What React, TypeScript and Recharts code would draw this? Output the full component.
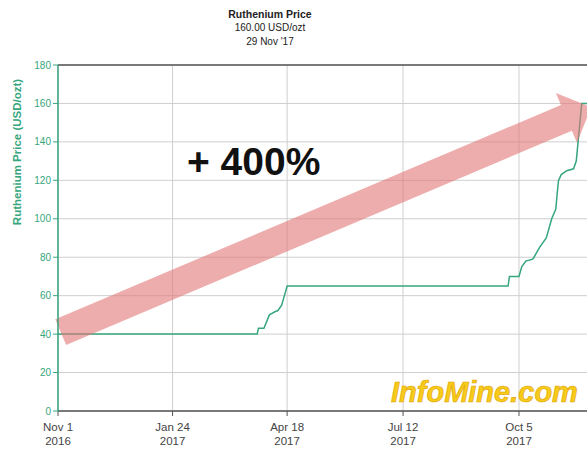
import React from "react";
import {
  LineChart,
  Line,
  XAxis,
  YAxis,
  CartesianGrid,
  ReferenceLine,
} from "recharts";

// Ruthenium spot price, Nov 2016 - Nov 2017 (days counted from Nov 1 2016)
const dayOffsets = [
  0, 146, 147, 151, 155, 160, 161, 164, 166, 168, 330, 331, 338, 340, 343, 348,
  349, 353, 358, 362, 365, 366, 367, 369, 373, 378, 380, 382, 384, 393,
];
const prices = [
  40, 40, 43, 43, 50, 52, 52, 55, 60, 65, 65, 70, 70, 75, 78, 79, 80, 85, 90,
  100, 105, 113, 120, 123, 125, 126, 130, 145, 160, 160,
];

const tickDays = [0, 84, 168, 253, 338];
const tickDates = ["Nov 1", "Jan 24", "Apr 18", "Jul 12", "Oct 5"];
const tickYears = ["2016", "2017", "2017", "2017", "2017"];
const priceTicks = [0, 20, 40, 60, 80, 100, 120, 140, 160, 180];

// trend arrow, start and tip in (day, price)
const trendFrom = { x: 2, y: 41 };
const trendTo = { x: 391, y: 158 };

const GREEN = "#36a67c";
const FONT = "'Liberation Sans', Arial, sans-serif";

const chartData = dayOffsets.map((day, i) => ({ day, price: prices[i] }));

const XTick = ({ x, y, payload }: any) => {
  const i = tickDays.indexOf(payload.value);
  return (
    <g transform={`translate(${x},${y})`}>
      <text textAnchor="middle" fill="#444" fontSize={11.5} fontFamily={FONT}>
        <tspan x={0} dy={13}>
          {tickDates[i]}
        </tspan>
        <tspan x={0} dy={14}>
          {tickYears[i]}
        </tspan>
      </text>
    </g>
  );
};

const YLabel = ({ viewBox }: any) => {
  const cx = viewBox.x + 17;
  const cy = viewBox.y + 87;
  return (
    <text
      x={cx}
      y={cy}
      transform={`rotate(-90 ${cx} ${cy})`}
      textAnchor="middle"
      dominantBaseline="central"
      fill={GREEN}
      fontSize={11.5}
      fontWeight="bold"
      fontFamily={FONT}
    >
      Ruthenium Price (USD/ozt)
    </text>
  );
};

// fat translucent arrow between the two segment ends
const TrendArrow = (p: any) => {
  const { x1, y1, x2, y2 } = p;
  const dx = x2 - x1;
  const dy = y2 - y1;
  const len = Math.sqrt(dx * dx + dy * dy);
  const ux = dx / len;
  const uy = dy / len;
  const nx = -uy;
  const ny = ux;
  const band = 14;
  const head = 27;
  const headLen = 27;
  const bx = x2 - ux * headLen;
  const by = y2 - uy * headLen;
  const pts = [
    [x1 + nx * band, y1 + ny * band],
    [bx + nx * band, by + ny * band],
    [bx + nx * head, by + ny * head],
    [x2, y2],
    [bx - nx * head, by - ny * head],
    [bx - nx * band, by - ny * band],
    [x1 - nx * band, y1 - ny * band],
  ]
    .map((q) => q.join(","))
    .join(" ");
  return <polygon points={pts} fill="#e27676" fillOpacity={0.6} />;
};

export default function App() {
  return (
    <div
      style={{
        position: "absolute",
        left: 0,
        top: 0,
        width: 587,
        height: 455,
        overflow: "hidden",
        background: "#fff",
        fontFamily: FONT,
      }}
    >
      <div
        style={{
          position: "absolute",
          left: 170,
          width: 200,
          top: 7,
          textAlign: "center",
          color: "#222",
          fontSize: 10,
          lineHeight: "14px",
        }}
      >
        <div style={{ fontWeight: "bold", fontSize: 10.5 }}>Ruthenium Price</div>
        <div>160.00 USD/ozt</div>
        <div>29 Nov '17</div>
      </div>

      <LineChart
        width={610}
        height={455}
        data={chartData}
        margin={{ top: 65, right: 16, bottom: 0, left: 0 }}
      >
        <CartesianGrid stroke="#cfcfcf" />
        <XAxis
          dataKey="day"
          type="number"
          domain={[0, 393]}
          ticks={tickDays}
          interval={0}
          height={44}
          axisLine={{ stroke: "#555", strokeWidth: 1.5 }}
          tickLine={{ stroke: "#555" }}
          tickSize={5}
          tickMargin={2}
          tick={XTick}
        />
        <YAxis
          type="number"
          domain={[0, 180]}
          ticks={priceTicks}
          interval={0}
          width={58}
          axisLine={{ stroke: GREEN, strokeWidth: 1.5 }}
          tickLine={{ stroke: GREEN }}
          tickSize={5}
          tickMargin={2}
          tick={{ fill: GREEN, fontSize: 10, fontFamily: FONT }}
          label={{ content: YLabel }}
        />
        <ReferenceLine y={180} stroke="#555" strokeWidth={1.5} />
        <Line
          type="linear"
          dataKey="price"
          stroke={GREEN}
          strokeWidth={1.5}
          dot={false}
          isAnimationActive={false}
        />
        <ReferenceLine
          segment={[trendFrom, trendTo]}
          ifOverflow="visible"
          shape={TrendArrow}
        />
      </LineChart>

      <div
        style={{
          position: "absolute",
          left: 187,
          top: 140,
          fontSize: 39,
          fontWeight: "bold",
          color: "#111",
          lineHeight: "44px",
        }}
      >
        + 400%
      </div>
      <div
        style={{
          position: "absolute",
          left: 391,
          top: 375,
          fontSize: 29,
          fontWeight: "bold",
          fontStyle: "italic",
          color: "#f7cb1a",
          WebkitTextStroke: "0.6px #e0a000",
          lineHeight: "34px",
        }}
      >
        InfoMine.com
      </div>
    </div>
  );
}
